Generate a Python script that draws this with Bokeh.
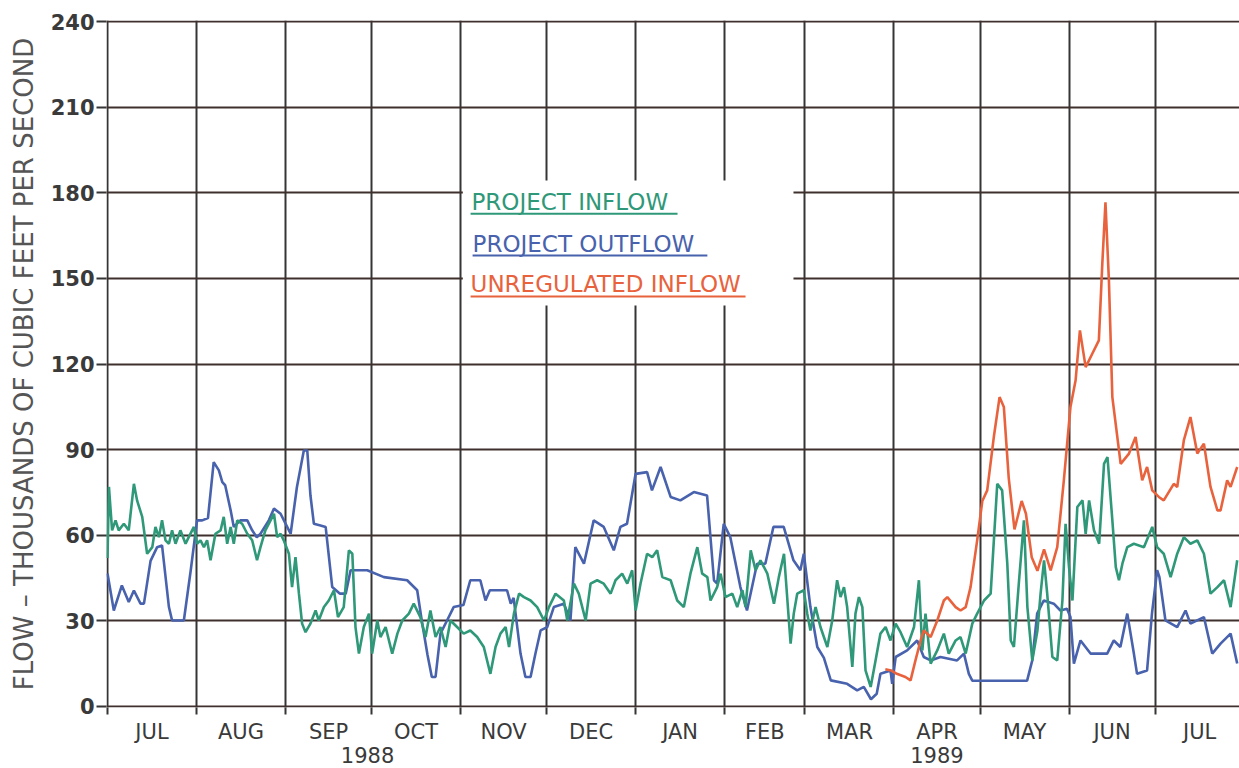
from bokeh.plotting import figure
from bokeh.models import Range1d, FixedTicker, ColumnDataSource
from bokeh.core.properties import value
from bokeh.embed import file_html
from bokeh.resources import INLINE

# ---------------- data (day offset from 1 Jul 1988, thousands of cfs) ----------------
month_bounds = [0, 31, 62, 92, 123, 153, 184, 215, 243, 274, 304, 335, 365, 396]
month_names = ["JUL", "AUG", "SEP", "OCT", "NOV", "DEC", "JAN", "FEB", "MAR", "APR",
               "MAY", "JUN", "JUL"]
year_1988_day = 90.6
y_ticks = [0, 30, 60, 90, 120, 150, 180, 210, 240]

outflow_day = [0, 2.2, 5, 7.4, 9.2, 11.5, 12.7, 15, 17.3, 19, 21.4, 22.5, 26.6, 29, 31.2, 33,
               35, 37, 38.8, 40, 41, 42.9, 44, 46.3, 48.7, 50.4, 52, 53.3, 56.2, 58, 60.3,
               62.6, 63.8, 66, 68.4, 69.6, 70.7, 71.9, 74.2, 76, 78.3, 81, 83, 84.7, 90.5,
               96.3, 104.4, 107.9, 109.5, 111.5, 113, 114.3, 116, 118.3, 120.6, 124, 126.4,
               129.9, 131.7, 133.2, 139.2, 140.5, 141.5, 143.9, 145.6, 147.4, 149.1, 150.9,
               153.2, 155.5, 159, 161.3, 163, 166, 169.4, 172.9, 176.4, 178.7, 181, 184, 188,
               189.7, 192.7, 196.2, 199.6, 204.3, 208.9, 211.3, 212.4, 214.7, 217, 220.5,
               222.8, 226.3, 229.2, 232, 235.6, 239, 241.4, 242.6, 244.9, 247.3, 249.6, 252,
               257.7, 261.2, 263.5, 266, 268, 269.3, 272.8, 273.4, 274.6, 278.6, 282.1,
               284.4, 286.8, 290.2, 296, 298.4, 300.1, 301.3, 320.4, 322.2, 323.9, 326.2,
               329.7, 332, 334.3, 335.5, 336.7, 339, 342.5, 348.3, 350.6, 352.9, 355.3,
               357.6, 358.7, 362.2, 363.9, 365.7, 366.5, 368.6, 372.7, 375.6, 377.3, 382,
               384.9, 387.8, 391.3, 393.6]
outflow_val = [46.6, 33.6, 42.4, 36.6, 40.6, 36, 36, 51, 55.8, 56.4, 34.8, 30.1, 30.1, 47.7,
               65.2, 65.2, 66, 85.6, 82.7, 78.6, 77.5, 68.7, 62.9, 65.2, 65.2, 61.7, 59.3,
               60.5, 65.2, 69.3, 67.5, 62.9, 60.5, 76.9, 89.7, 89.7, 74, 64, 63.4, 62.9, 41.8,
               39.5, 39.5, 47.7, 47.7, 45.3, 44.2, 40.7, 30, 18, 10.3, 10.3, 25.5, 30.1, 34.8,
               35.5, 44.2, 44.2, 37.1, 40.7, 40.7, 36, 38, 18.5, 10.3, 10.3, 18.5, 26.6, 27.8,
               34.8, 36, 30.1, 55.8, 50, 65.2, 62.9, 54.7, 62.9, 64, 81.5, 82.1, 75.7, 83.9,
               73.4, 72.2, 75.1, 73.9, 44.2, 43, 64, 59.3, 41.8, 33.6, 50, 50, 62.9, 62.9,
               51.2, 47.7, 53.5, 34.8, 20.8, 17, 9.1, 7.9, 5.6, 6.8, 2.5, 4.4, 11.4, 12.6,
               7.9, 17.3, 19.6, 23.1, 17.3, 16.1, 17.3, 16.1, 18.5, 11.4, 9, 9, 16.1, 32.5,
               37.1, 36, 33.6, 34.2, 31.3, 15, 23.1, 18.5, 18.5, 23.1, 20.8, 32.5, 18.5, 11.4,
               12.6, 32.5, 47.7, 45.3, 30.1, 27.8, 33.6, 29, 31.3, 18.5, 22, 25.5, 15]

inflow_day = [0, 0.5, 1.6, 2.8, 3.9, 5.7, 7.4, 9.2, 10.3, 12.1, 13.8, 15.6, 16.7, 17.9, 19,
              20.2, 21.4, 22.5, 23.7, 25.4, 27.2, 28.3, 30.1, 31.2, 32.4, 33.6, 34.7, 35.9,
              37.6, 39.4, 40.5, 41.7, 42.9, 44, 45.2, 46.9, 48.7, 50.4, 52.1, 53.3, 55, 56.8,
              58, 59.1, 60.3, 61.4, 63.2, 64.3, 65.5, 66.7, 67.8, 69, 70.7, 72.5, 73.6, 75.4,
              77.1, 78.9, 80.3, 82.3, 84.1, 85.3, 86.4, 87.6, 89.3, 91.1, 92.2, 94, 95.1,
              96.9, 99.2, 101, 102.7, 105, 106.7, 109, 110.8, 112.5, 114.3, 116, 117.8,
              119.5, 121.8, 124.1, 126.4, 128.8, 131.1, 133.4, 135.2, 136.9, 138.7, 139.9,
              141.6, 143.4, 145.1, 147.4, 149.7, 152.1, 153.8, 156.1, 159, 160.2, 162.5,
              164.2, 166.6, 168.3, 170.6, 172.9, 175.3, 177, 179.3, 181.1, 182.8, 184,
              185.7, 188, 189.8, 191.5, 193.3, 196.2, 198.5, 200.8, 203.1, 205.5, 207.2,
              209, 210.1, 212.4, 213.6, 215.3, 217.7, 219.4, 221.2, 222.3, 224.1, 225.8,
              227.5, 229.9, 232.2, 233.9, 235.7, 237.4, 238, 239.1, 240.3, 242.6, 243.8,
              244.9, 246.7, 248.4, 250.8, 252.5, 254.2, 255.4, 256.6, 257.7, 259.5, 260.6,
              261.8, 263, 264.1, 265.9, 267.6, 269.3, 271.1, 272.8, 274.6, 276.3, 278.6,
              281, 282.7, 283.9, 285, 286.8, 289.1, 291.4, 293.1, 295.5, 297.2, 299, 301.3,
              303, 305.4, 307.7, 310, 311.7, 313.5, 314.7, 315.8, 317.6, 319.3, 320.5,
              322.2, 324, 325.1, 326.3, 327.4, 329.2, 330.9, 332.7, 333.8, 335, 336.2,
              337.9, 339.7, 340.8, 342, 343.7, 345.5, 347.2, 348.4, 350.1, 351.3, 352.4,
              353.6, 355.3, 357.6, 361.1, 364, 365.7, 368, 370.4, 372.7, 375, 377.3, 379.7,
              382, 384.3, 386.7, 389, 391.3, 393.6]
inflow_val = [52, 76.9, 61.7, 65.2, 61.7, 64, 61.7, 78, 72.2, 66.4, 53.5, 55.8, 62.9, 59.3,
              65.2, 58.2, 57, 61.7, 57, 61.7, 57, 59.3, 62.9, 57, 58.2, 55.8, 58.2, 51.2,
              60.5, 61.7, 66.4, 57, 62.9, 57, 65.2, 64, 60.5, 58.2, 51.2, 55.8, 61.7, 65.2,
              67.5, 59.3, 60.5, 58.2, 53.5, 41.8, 52.3, 39.5, 29, 26, 29, 33.6, 30.1, 34.8,
              37.1, 40.7, 31.3, 34.8, 54.7, 53.5, 27.8, 18.5, 27.8, 32.5, 18.5, 30.1, 24.3,
              27.8, 18.5, 25.5, 30.1, 32.5, 36, 31.3, 24.3, 33.6, 24.3, 27.8, 20.8, 30.1,
              27.8, 25.5, 26.6, 24.3, 20.8, 11.4, 20.8, 25.5, 27.8, 20.8, 32.5, 39.5, 38.3,
              37.1, 34.8, 30.1, 34.8, 39.5, 37.1, 30.1, 43, 39.5, 30.1, 43, 44.2, 43, 39.5,
              44.2, 46.5, 43, 47.7, 33.6, 43, 53.5, 52.3, 54.7, 45.3, 44.2, 37.1, 34.8, 46.5,
              55.8, 46.5, 45.3, 37.1, 41.8, 46.5, 38.3, 39.5, 34.8, 40.7, 34.8, 54.7, 47.7,
              51.2, 46.5, 36, 45.3, 53.5, 30.1, 22, 32.5, 39.5, 40.7, 32.5, 26.6, 34.8, 27.8,
              20.8, 30.1, 44.2, 38.3, 41.8, 34.8, 13.8, 32.5, 38.3, 34.8, 12.6, 6.8, 16.1,
              25.5, 27.8, 23.1, 29, 26, 20.8, 27.8, 44.2, 19.6, 32.5, 15, 19.6, 25.5, 18.5,
              23.1, 24.3, 18.5, 29, 32.5, 37.1, 39.5, 78, 75.7, 50, 23.1, 20.8, 44.2, 65.2,
              34.8, 16.1, 26.6, 39.5, 51.2, 39.5, 17.3, 16.1, 37.1, 64, 48.8, 37.1, 69.9,
              72.2, 60.5, 72.2, 61.7, 57, 85, 87.4, 65.2, 48.8, 44.2, 50, 55.8, 57, 55.8,
              62.9, 55.8, 53.5, 45.3, 53.5, 59.3, 57, 58.2, 53.5, 39.5, 41.8, 44.2, 34.8,
              51.2]

unreg_day = [271, 273, 275, 278, 279.8, 281.5, 283.3, 284.4, 286.8, 289.1, 291.4, 292.6,
             295.5, 297.2, 299, 300.7, 303, 304.8, 306.5, 308.8, 310.8, 312.3, 314, 316,
             318.5, 320, 322, 324, 326.3, 328.6, 330.9, 333.2, 335.5, 337.3, 338.8, 340.8,
             343.1, 345.4, 346.6, 347.7, 348.9, 350.1, 353, 355.9, 358.2, 360.5, 362.2, 364,
             366.3, 368, 371.5, 372.7, 375, 377.3, 379.7, 382, 384.3, 386.7, 387.8, 390.1,
             391.3, 393.6]
unreg_val = [13, 12.6, 11.4, 10.3, 9.1, 16.1, 23.1, 26.6, 24.3, 30.1, 37.1, 38.3, 34.8,
             33.6, 34.8, 41.8, 58.2, 72, 75.7, 94.4, 108.4, 104.9, 80, 62, 72, 67.5, 52.3,
             47.5, 55, 47.7, 55.8, 79.2, 104.9, 114.3, 131.8, 118.9, 123.6, 128.3, 155.1,
             176.7, 149.3, 108.4, 85, 88.6, 94.4, 79.2, 83.9, 75.7, 73.4, 72.2, 78, 76.9,
             93.2, 101.4, 88.6, 92.1, 76.9, 68.7, 68.7, 79.2, 76.9, 83.9]

legend_labels = ["PROJECT INFLOW", "PROJECT OUTFLOW", "UNREGULATED INFLOW"]

# ---------------- styling ----------------
GREEN = "#2f9878"
BLUE = "#4862ad"
RED = "#e8633d"
FONT = "DejaVu Sans"

p = figure(output_backend="svg", toolbar_location=None,
           frame_width=1133, frame_height=687,
           min_border_left=106, min_border_top=20, min_border_right=0, min_border_bottom=0,
           x_range=Range1d(-0.35, 394.4), y_range=Range1d(-0.4, 240.4))
p.background_fill_color = "#ffffff"
p.border_fill_color = "#ffffff"
p.outline_line_color = None

# grid
p.xgrid.ticker = FixedTicker(ticks=month_bounds)
p.xgrid.grid_line_color = "#353535"
p.xgrid.grid_line_width = 2
p.ygrid.ticker = FixedTicker(ticks=y_ticks)
p.ygrid.grid_line_color = "#3e302c"
p.ygrid.grid_line_width = 2

# x axis: labels at mid-months, short ticks at month boundaries
mids = [(month_bounds[i] + month_bounds[i + 1]) / 2 for i in range(len(month_names))]
overrides = {m: n for m, n in zip(mids, month_names)}
overrides[mids[9]] = "APR\n1989"
overrides[year_1988_day] = "\n1988"
p.xaxis.ticker = FixedTicker(ticks=mids + [year_1988_day], minor_ticks=month_bounds)
p.xaxis.major_label_overrides = overrides
p.xaxis.major_tick_out = 0
p.xaxis.major_tick_in = 0
p.xaxis.minor_tick_out = 7
p.xaxis.minor_tick_in = 0
p.xaxis.minor_tick_line_color = "#353535"
p.xaxis.minor_tick_line_width = 2
p.xaxis.axis_line_color = None
p.xaxis.major_label_standoff = 5
p.xaxis.major_label_text_font = FONT
p.xaxis.major_label_text_font_size = "21px"
p.xaxis.major_label_text_color = "#3a3a3a"
p.xaxis.major_label_text_line_height = 1.0

# y axis
p.yaxis.ticker = FixedTicker(ticks=y_ticks)
p.yaxis.major_tick_out = 10
p.yaxis.major_tick_in = 0
p.yaxis.major_tick_line_color = "#353535"
p.yaxis.major_tick_line_width = 2
p.yaxis.minor_tick_line_color = None
p.yaxis.axis_line_color = None
p.yaxis.major_label_standoff = 2
p.yaxis.major_label_text_font = FONT
p.yaxis.major_label_text_font_size = "21px"
p.yaxis.major_label_text_font_style = "bold"
p.yaxis.major_label_text_color = "#3a3a3a"
p.yaxis.axis_label = "FLOW \u2013 THOUSANDS OF CUBIC FEET PER SECOND"
p.yaxis.axis_label_text_font = FONT
p.yaxis.axis_label_text_font_size = "26px"
p.yaxis.axis_label_text_font_style = "normal"
p.yaxis.axis_label_text_color = "#555555"
p.yaxis.axis_label_standoff = 9

# white box behind the legend (interrupts the grid)
p.quad(left=[123.8], right=[239], bottom=[140.5], top=[184.3],
       fill_color="#ffffff", line_color=None)

# data lines
p.line(outflow_day, outflow_val, line_color=BLUE, line_width=2.6)
p.line(inflow_day, inflow_val, line_color=GREEN, line_width=2.6)
p.line(unreg_day, unreg_val, line_color=RED, line_width=2.6)

# legend as coloured, underlined text
colors = [GREEN, BLUE, RED]
leg = ColumnDataSource(dict(
    x=[126.8, 127.2, 126.5], y=[176.9, 162.2, 147.9], text=legend_labels, color=colors,
    ux0=[126.5, 127.2, 126.5], ux1=[198.6, 209.0, 222.3], uy=[172.7, 158.0, 143.7]))
p.text(x="x", y="y", text="text", text_color="color", source=leg,
       text_font=value(FONT), text_font_size="23px", text_align="left",
       text_baseline="middle")
p.segment(x0="ux0", y0="uy", x1="ux1", y1="uy", line_color="color", line_width=2,
          source=leg)

open("out.html", "w").write(file_html(p, INLINE))
